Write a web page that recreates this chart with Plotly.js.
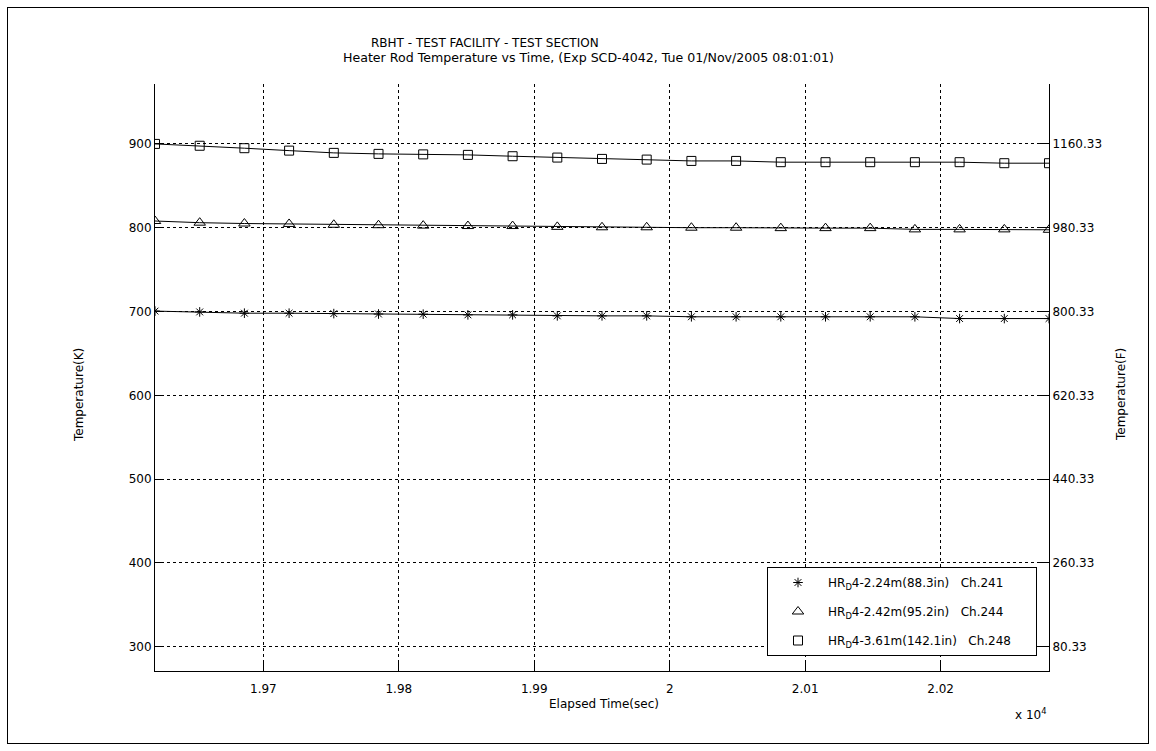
<!DOCTYPE html>
<html>
<head>
<meta charset="utf-8">
<script src="https://cdn.plot.ly/plotly-3.0.1.min.js"></script>
<style>
  html, body { margin: 0; padding: 0; background: #fff; }
  #wrap { position: relative; width: 1156px; height: 751px; }
  #chart { position: absolute; left: 0; top: 0; width: 1156px; height: 751px; }
  #frame { position: absolute; left: 7px; top: 7px; width: 1140px; height: 735px; border: 1px solid #000; pointer-events: none; }
</style>
</head>
<body>
<div id="wrap"><div id="chart"></div><div id="frame"></div></div>
<script>
// Elapsed time (sec)
const timeSec = [19620, 19653, 19686, 19719, 19752, 19785, 19818, 19851, 19884, 19917, 19950,
                 19983, 20016, 20049, 20082, 20115, 20148, 20181, 20214, 20247, 20280];
// Ch.241 HR_D4-2.24m (K)
const ch241 = [700.5, 699.5, 698, 698, 697.5, 697, 696.8, 696, 696, 694.8, 694.8,
               694.8, 693.7, 693.7, 693.7, 693.7, 693.7, 693.7, 691.6, 691.6, 691.6];
// Ch.244 HR_D4-2.42m (K)
const ch244 = [808, 806, 805, 804.5, 803.5, 803, 802.5, 802, 802, 801, 800.5,
               800.5, 800, 800, 799.5, 799.5, 799.5, 798, 798, 798, 797.5];
// Ch.248 HR_D4-3.61m (K)
const ch248 = [900, 897.8, 894.9, 892, 889.3, 888.1, 887.5, 886.9, 885.3, 883.7, 882.1,
               881.3, 879.7, 879.7, 878.2, 878.2, 878.2, 878.2, 878.2, 877, 877];

const seriesNames = ['HR<sub>D</sub>4-2.24m(88.3in)\u00a0\u00a0\u00a0Ch.241\u00a0\u00a0\u00a0\u00a0\u00a0\u00a0\u00a0',
                     'HR<sub>D</sub>4-2.42m(95.2in)\u00a0\u00a0\u00a0Ch.244\u00a0\u00a0\u00a0\u00a0\u00a0\u00a0\u00a0',
                     'HR<sub>D</sub>4-3.61m(142.1in)\u00a0\u00a0\u00a0Ch.248\u00a0\u00a0\u00a0\u00a0\u00a0'];

const xTickVals = [19700, 19800, 19900, 20000, 20100, 20200];
const xTickText = ['1.97', '1.98', '1.99', '2', '2.01', '2.02'];
const yTickValsK = [300, 400, 500, 600, 700, 800, 900];
const yTickTextF = ['80.33', '260.33', '440.33', '620.33', '800.33', '980.33', '1160.33'];

const xRange = [19620, 20280];
const yRangeK = [271, 971.5];
const toF = k => k * 1.8 - 459.67;

const font = 'DejaVu Sans, sans-serif';
const symbols = ['asterisk-open', 'triangle-up-open', 'square-open'];
const sizes = [8, 10, 9];
const data = [ch241, ch244, ch248];

const traces = [];
data.forEach((ys, i) => {
  traces.push({
    x: timeSec, y: ys, type: 'scatter', mode: 'lines',
    line: {color: '#000', width: 1}, showlegend: false, hoverinfo: 'skip'
  });
});
data.forEach((ys, i) => {
  traces.push({
    x: timeSec, y: ys, type: 'scatter', mode: 'markers', name: seriesNames[i],
    legendgroup: 'g' + i,
    marker: {symbol: symbols[i], size: sizes[i], color: '#000', line: {color: '#000', width: 1}}
  });
});
// right axis (Fahrenheit) carrier trace
traces.push({
  x: [xRange[0]], y: [toF(yRangeK[0])], yaxis: 'y2', type: 'scatter', mode: 'markers',
  marker: {opacity: 0}, showlegend: false, hoverinfo: 'skip'
});

const tf = {family: font, size: 12, color: '#000'};
const layout = {
  width: 1156, height: 751,
  margin: {l: 155, r: 107, t: 84, b: 80},
  paper_bgcolor: '#fff', plot_bgcolor: '#fff',
  font: tf,
  showlegend: true,
  legend: {
    x: (767 - 155) / 894, y: (671 - 567) / 587, xanchor: 'left', yanchor: 'top',
    bordercolor: '#000', borderwidth: 1, bgcolor: '#fff',
    font: tf, itemwidth: 50,
    tracegroupgap: 10
  },
  xaxis: {
    range: xRange, tickvals: xTickVals, ticktext: xTickText,
    ticks: 'inside', ticklen: 9, tickcolor: '#000', tickwidth: 1, ticklabelstandoff: 7,
    showline: true, linecolor: '#000', linewidth: 1,
    showgrid: true, gridcolor: '#000', gridwidth: 1, griddash: '3px,3px',
    zeroline: false, tickfont: tf
  },
  yaxis: {
    range: yRangeK, tickvals: yTickValsK,
    ticks: 'inside', ticklen: 9, tickcolor: '#000', tickwidth: 1,
    showline: true, linecolor: '#000', linewidth: 1,
    showgrid: true, gridcolor: '#000', gridwidth: 1, griddash: '3px,3px',
    zeroline: false, tickfont: tf
  },
  yaxis2: {
    overlaying: 'y', side: 'right',
    range: yRangeK.map(toF), tickvals: yTickValsK.map(toF), ticktext: yTickTextF,
    ticks: 'inside', ticklen: 9, tickcolor: '#000', tickwidth: 1,
    showline: true, linecolor: '#000', linewidth: 1,
    showgrid: false, zeroline: false, tickfont: tf
  },
  annotations: [
    {text: 'RBHT - TEST FACILITY - TEST SECTION', xref: 'paper', yref: 'paper', x: (485 - 155) / 894, y: 1 + (84 - 43) / 587,
     xanchor: 'center', yanchor: 'middle', showarrow: false, font: tf},
    {text: 'Heater Rod Temperature vs Time, (Exp SCD-4042, Tue 01/Nov/2005 08:01:01)', xref: 'paper', yref: 'paper',
     x: (588 - 155) / 894, y: 1 + (84 - 57) / 587,
     xanchor: 'center', yanchor: 'middle', showarrow: false, font: {family: font, size: 12.6, color: '#000'}},
    {text: 'Elapsed Time(sec)', xref: 'paper', yref: 'paper', x: (604 - 155) / 894, y: -(704 - 671) / 587,
     xanchor: 'center', yanchor: 'middle', showarrow: false, font: tf},
    {text: 'x 10<sup>4</sup>', xref: 'paper', yref: 'paper', x: (1031 - 155) / 894, y: -(714 - 671) / 587,
     xanchor: 'center', yanchor: 'middle', showarrow: false, font: tf},
    {text: 'Temperature(K)', xref: 'paper', yref: 'paper', x: -(155 - 79) / 894, y: (671 - 395) / 587, textangle: -90,
     xanchor: 'center', yanchor: 'middle', showarrow: false, font: tf},
    {text: 'Temperature(F)', xref: 'paper', yref: 'paper', x: 1 + (1121 - 1049) / 894, y: (671 - 395) / 587, textangle: -90,
     xanchor: 'center', yanchor: 'middle', showarrow: false, font: tf}
  ]
};

Plotly.newPlot('chart', traces, layout, {displayModeBar: false, staticPlot: true});
</script>
</body>
</html>
